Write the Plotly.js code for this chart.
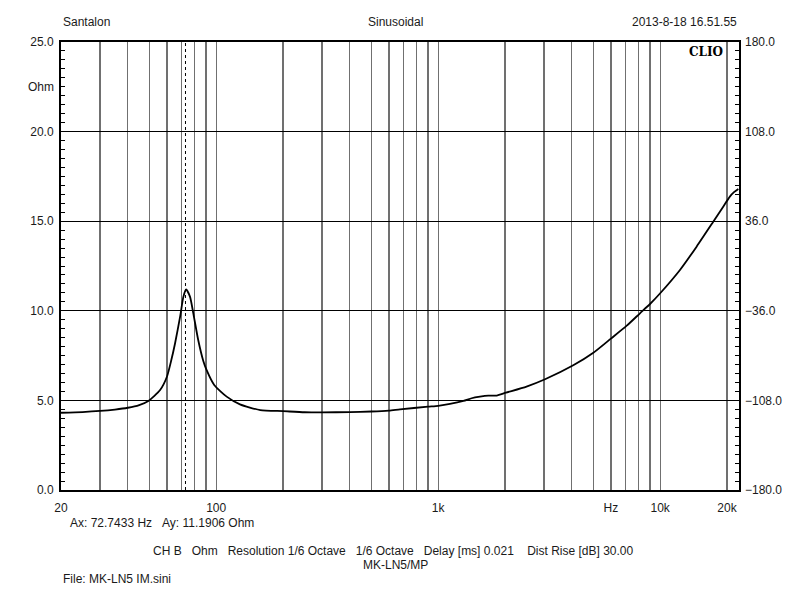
<!DOCTYPE html>
<html>
<head>
<meta charset="utf-8">
<script src="https://cdn.plot.ly/plotly-3.0.1.min.js"></script>
<style>
  html, body { margin: 0; padding: 0; background: #fff; }
  #chart { width: 800px; height: 600px; }
</style>
</head>
<body>
<div id="chart"></div>
<script>
// ---- data ----
var freqHz = [20, 25, 30, 35, 40, 45, 49.5, 55.9, 60, 62.8, 65.3, 68.8, 71.2, 73.2, 76.2, 78.9, 83, 87.5, 90.5, 98, 111.5, 128, 158, 200, 250, 300, 400, 500, 600, 673, 900, 1000, 1130, 1300, 1415, 1543, 1682, 1834, 2020, 2500, 3030, 4060, 5000, 6000, 7070, 8110, 9000, 10000, 12280, 14590, 17340, 19230, 20600, 21500, 22500];
var impedanceOhm = [4.31, 4.35, 4.41, 4.49, 4.59, 4.74, 4.97, 5.58, 6.32, 7.25, 8.19, 9.67, 10.79, 11.19, 10.79, 9.86, 8.37, 7.2, 6.7, 5.86, 5.21, 4.78, 4.46, 4.40, 4.34, 4.33, 4.35, 4.38, 4.43, 4.50, 4.65, 4.70, 4.80, 4.97, 5.12, 5.21, 5.27, 5.27, 5.43, 5.77, 6.18, 6.96, 7.66, 8.45, 9.17, 9.86, 10.38, 10.98, 12.28, 13.58, 14.97, 15.81, 16.37, 16.62, 16.80];

var gridFreqs = [20, 30, 40, 50, 60, 70, 80, 90, 100, 200, 300, 400, 500, 600, 700, 800, 900, 1000, 2000, 3000, 4000, 5000, 6000, 7000, 8000, 9000, 10000, 20000];
var gridLabels = ['20', '', '', '', '', '', '', '', '100', '', '', '', '', '', '', '', '', '1k', '', '', '', '', 'Hz', '', '', '', '10k', '20k'];

var cursorHz = 72.7433;
var cursorOhm = 11.1906;

var headerLeft = 'Santalon';
var headerCenter = 'Sinusoidal';
var headerRight = '2013-8-18 16.51.55';
var brand = 'CLIO';
var yUnit = 'Ohm';
var cursorText = 'Ax: ' + cursorHz + ' Hz\u00A0\u00A0\u00A0Ay: ' + cursorOhm + ' Ohm';
var settingsText = 'CH B\u00A0\u00A0\u00A0Ohm\u00A0\u00A0\u00A0Resolution 1/6 Octave\u00A0\u00A0\u00A01/6 Octave\u00A0\u00A0\u00A0Delay [ms] 0.021\u00A0\u00A0\u00A0\u00A0Dist Rise [dB] 30.00';
var deviceText = 'MK-LN5/MP';
var fileText = 'File: MK-LN5 IM.sini';

var FONT = 'Liberation Sans, Arial, sans-serif';
var TXT = '#1a1a1a';

var traces = [
  {
    x: freqHz, y: impedanceOhm, type: 'scatter', mode: 'lines',
    line: { color: '#000', width: 1.8, shape: 'spline', smoothing: 0.6 },
    hoverinfo: 'skip', showlegend: false
  },
  {
    x: [cursorHz, cursorHz], y: [0, 25], type: 'scatter', mode: 'lines',
    line: { color: '#000', width: 1, dash: 'dot' },
    hoverinfo: 'skip', showlegend: false
  },
  {
    x: [null], y: [null], yaxis: 'y2', type: 'scatter', mode: 'lines',
    hoverinfo: 'skip', showlegend: false
  }
];

var layout = {
  width: 800, height: 600,
  margin: { l: 61, r: 61, t: 42, b: 110 },
  paper_bgcolor: '#fff', plot_bgcolor: '#fff',
  font: { family: FONT, size: 12, color: TXT },
  showlegend: false,
  xaxis: {
    type: 'log',
    range: [Math.log10(20), Math.log10(20) + 678 / 222],
    tickmode: 'array', tickvals: gridFreqs, ticktext: gridLabels,
    ticks: '', ticklabelstandoff: 6,
    showgrid: true, gridcolor: '#707070', gridwidth: 1.2,
    showline: true, linecolor: '#000', linewidth: 2, mirror: true,
    zeroline: false, fixedrange: true
  },
  yaxis: {
    range: [0, 25], tick0: 0, dtick: 5, tickformat: '.1f',
    ticks: 'inside', ticklen: 4, tickcolor: '#000', ticklabelstandoff: 3,
    minor: { tickmode: 'linear', tick0: 0, dtick: 0.5, ticks: 'inside', ticklen: 4, tickcolor: '#000', showgrid: false },
    showgrid: true, gridcolor: '#000', gridwidth: 1,
    showline: true, linecolor: '#000', linewidth: 2, mirror: true,
    zeroline: false, fixedrange: true
  },
  yaxis2: {
    overlaying: 'y', side: 'right',
    range: [-180, 180], tick0: -180, dtick: 72, tickformat: '.1f',
    ticks: 'inside', ticklen: 4, tickcolor: '#000', ticklabelstandoff: 5,
    minor: { tickmode: 'linear', tick0: -180, dtick: 7.2, ticks: 'inside', ticklen: 4, tickcolor: '#000', showgrid: false },
    showgrid: false, showline: false, zeroline: false, fixedrange: true
  },
  annotations: [
    { text: headerLeft, xref: 'paper', yref: 'paper', x: 0, y: 1.0446, xanchor: 'left', yanchor: 'middle', showarrow: false },
    { text: headerCenter, xref: 'paper', yref: 'paper', x: 0.494, y: 1.0446, xanchor: 'center', yanchor: 'middle', showarrow: false },
    { text: headerRight, xref: 'paper', yref: 'paper', x: 1.0, y: 1.0446, xanchor: 'right', yanchor: 'middle', showarrow: false },
    { text: '<b>' + brand + '</b>', xref: 'paper', yref: 'paper', x: 0.979, y: 0.978, xanchor: 'right', yanchor: 'middle', showarrow: false,
      font: { family: 'DejaVu Serif, Liberation Serif, serif', size: 12, color: '#000' } },
    { text: yUnit, xref: 'paper', yref: 'paper', x: -0.0074, y: 0.8996, xanchor: 'right', yanchor: 'middle', showarrow: false },
    { text: cursorText, xref: 'paper', yref: 'paper', x: 0.0103, y: -0.0737, xanchor: 'left', yanchor: 'middle', showarrow: false },
    { text: settingsText, xref: 'paper', yref: 'paper', x: 0.491, y: -0.136, xanchor: 'center', yanchor: 'middle', showarrow: false },
    { text: deviceText, xref: 'paper', yref: 'paper', x: 0.494, y: -0.167, xanchor: 'center', yanchor: 'middle', showarrow: false },
    { text: fileText, xref: 'paper', yref: 'paper', x: 0, y: -0.199, xanchor: 'left', yanchor: 'middle', showarrow: false }
  ]
};

Plotly.newPlot('chart', traces, layout, { displayModeBar: false, staticPlot: true });
</script>
</body>
</html>
